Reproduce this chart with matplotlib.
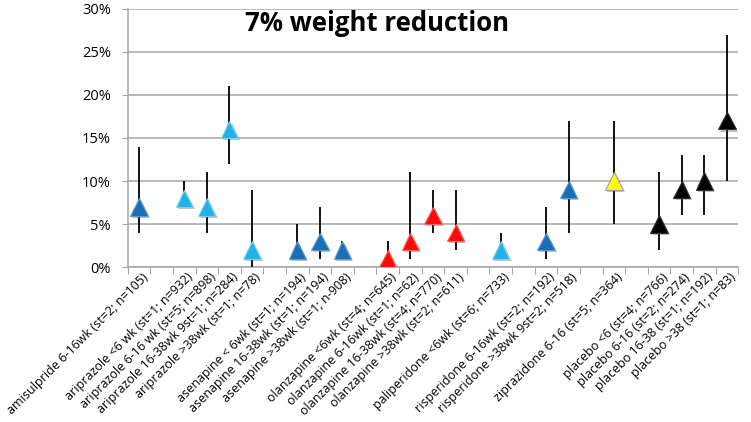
import matplotlib
matplotlib.use("Agg")
import matplotlib.pyplot as plt
import matplotlib.patheffects as pe
import numpy as np

labels = [
    "amisulpride 6-16wk (st=2; n=105)", "",
    "ariprazole <6 wk (st=1; n=932)", "ariprazole 6-16 wk (st=5; n=898)",
    "ariprazole 16-38wk 9st=1; n=284)", "ariprazole >38wk (st=1; n=78)", "",
    "asenapine < 6wk (st=1; n=194)", "asenapine 16-38wk (st=1; n=194)",
    "asenapine >38wk (st=1; n-908)", "",
    "olanzapine <6wk (st=4; n=645)", "olanzapine 6-16wk (st=1; n=62)",
    "olanzapine 16-38wk (st=4; n=770)", "olanzapine >38wk (st=2; n=611)", "",
    "paliperidone <6wk (st=6; n=733)", "",
    "risperidone 6-16wk (st=2; n=192)", "risperidone >38wk 9st=2; n=518)", "",
    "ziprazidone 6-16 (st=5; n=364)", "",
    "placebo <6 (st=4; n=766)", "placebo 6-16 (st=2; n=274)",
    "placebo 16-38 (st=1; n=192)", "placebo >38 (st=1; n=83)",
]
values = [7, None, 8, 7, 16, 2, None, 2, 3, 2, None, 1, 3, 6, 4, None, 2, None,
          3, 9, None, 10, None, 5, 9, 10, 17]
upper = [14, None, 10, 11, 21, 9, None, 5, 7, 3, None, 3, 11, 9, 9, None, 4, None,
         7, 17, None, 17, None, 11, 13, 13, 27]
lower = [4, None, 8, 4, 12, 0, None, 2, 1, 2, None, 0, 1, 4, 2, None, 2, None,
         1, 4, None, 5, None, 2, 6, 6, 10]
groups = ["dark", None, "light", "light", "light", "light", None, "dark", "dark", "dark", None,
          "red", "red", "red", "red", None, "light", None, "dark", "dark", None,
          "yellow", None, "black", "black", "black", "black"]
group_colors = {"dark": "#1b6eb5", "light": "#1fb1e8", "red": "#ff0a0a",
                "yellow": "#ffff00", "black": "#000000"}
group_edges = {"dark": "#5a9ad0", "light": "#7fd0f0", "red": "#ff6060",
               "yellow": "#a0a0a0", "black": "#303030"}

fig = plt.figure(figsize=(7.51, 4.22), dpi=100)
ax = fig.add_axes([0.170, 0.367, 0.813, 0.612])

n = len(labels)
x = np.arange(n)
ax.set_xlim(-0.5, n - 0.5)
ax.set_ylim(0, 30)

for i in range(n):
    if values[i] is None:
        continue
    ax.plot([x[i], x[i]], [lower[i], upper[i]], color="black", lw=1.3, zorder=3,
            solid_capstyle="butt")
    ax.plot(x[i], values[i], marker="^", markersize=12.5,
            color=group_colors[groups[i]], markeredgecolor=group_edges[groups[i]],
            markeredgewidth=0.8, zorder=4, linestyle="none",
            path_effects=[pe.SimplePatchShadow(offset=(1.5, -1.5), alpha=0.35,
                                               shadow_rgbFace="#555555"), pe.Normal()])

ax.set_yticks(np.arange(0, 31, 5))
ax.set_yticklabels([f"{v}%" for v in range(0, 31, 5)], fontsize=10.5,
                   family=["Open Sans", "DejaVu Sans"])
ax.yaxis.grid(True, color="#a6a6a6", lw=1.1)
ax.set_axisbelow(True)
ax.tick_params(axis="y", length=4, color="#a6a6a6", pad=8)

ax.set_xticks(np.arange(-0.5, n, 1.0))
ax.set_xticklabels([])
ax.tick_params(axis="x", length=5, color="#a6a6a6", direction="out")
for i, lab in enumerate(labels):
    if lab:
        ax.text(x[i] + 0.3, -0.95, lab, rotation=45, ha="right", va="center",
                rotation_mode="anchor", fontsize=9.0,
                family=["Open Sans", "DejaVu Sans"])

for s in ["top", "right"]:
    ax.spines[s].set_visible(False)
for s in ["left", "bottom"]:
    ax.spines[s].set_color("#a6a6a6")
    ax.spines[s].set_linewidth(1.1)

ax.text(0.408, 0.945, "7% weight reduction", transform=ax.transAxes, ha="center",
        va="center", fontsize=18.5, fontweight="bold", family=["Open Sans", "DejaVu Sans"])

fig.savefig("out.png", dpi=100)
